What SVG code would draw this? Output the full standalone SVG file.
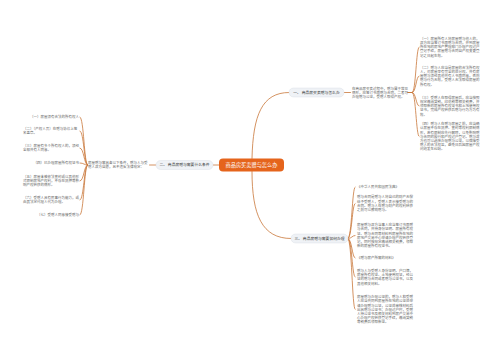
<svg xmlns="http://www.w3.org/2000/svg" width="500" height="360" viewBox="0 0 500 360">
<style>
.bg{fill:#ffffff}
.ln{fill:none;stroke:#c9773a;stroke-width:0.8;stroke-linecap:round}
.root{fill:#e5641c}
.rt{fill:#ffffff;font-family:"Noto Sans CJK SC","Noto Sans",sans-serif;font-size:5.2px;text-anchor:middle}
.nd{fill:#eff2f6;stroke:#d6dbe2;stroke-width:0.4}
.nt{fill:#333333;font-family:"Noto Sans CJK SC","Noto Sans",sans-serif;font-size:3.8px;text-anchor:middle}
.tx{fill:#666666;font-family:"Noto Sans CJK SC","Noto Sans",sans-serif;font-size:3.5px}
</style>
<rect class="bg" x="0" y="0" width="500" height="360"/>
<g id="connectors">
<path class="ln" d="M252 158.5 C253 115 262 92.5 289 92.5"/>
<path class="ln" d="M252 171.5 C252 215 262 238.5 291 238.5"/>
<path class="ln" d="M219 165 H213"/>
<path class="ln" d="M344 92.5 H350.5"/>
<path class="ln" d="M408 92.5 H412 C416 92.5 416 47 419 47"/>
<path class="ln" d="M408 92.5 H412 C416 92.5 416 76 419 76"/>
<path class="ln" d="M408 92.5 H412 C416 92.5 416 106 419 106"/>
<path class="ln" d="M408 92.5 H412 C416 92.5 416 136.5 419 136.5"/>
<path class="ln" d="M156 165 H149.5"/>
<path class="ln" d="M87.5 165 C84 165 84 117 80 117"/>
<path class="ln" d="M87.5 165 C84 165 84 131 80 131"/>
<path class="ln" d="M87.5 165 C84 165 84 148 80 148"/>
<path class="ln" d="M87.5 165 C84 165 84 163 80 163"/>
<path class="ln" d="M87.5 165 C84 165 84 181 80 181"/>
<path class="ln" d="M87.5 165 C84 165 84 200 80 200"/>
<path class="ln" d="M87.5 165 C84 165 84 215 80 215"/>
<path class="ln" d="M348 238.5 C352 238.5 352 187 355 187"/>
<path class="ln" d="M348 238.5 C352 238.5 352 203.5 355 203.5"/>
<path class="ln" d="M348 238.5 C352 238.5 352 235.5 355 235.5"/>
<path class="ln" d="M348 238.5 C352 238.5 352 258 355 258"/>
<path class="ln" d="M348 238.5 C352 238.5 352 277 355 277"/>
<path class="ln" d="M348 238.5 C352 238.5 352 309.5 355 309.5"/>
</g>
<g id="root">
<rect class="root" x="219" y="158.5" width="65" height="13" rx="4"/>
<text class="rt" x="251.5" y="166.9">商品房买卖赠与怎么办</text>
</g>
<g id="n1">
<rect class="nd" x="289" y="88" width="55" height="9" rx="4.5"/>
<text class="nt" x="316.5" y="93.9">一、 商品房买卖赠与怎么办</text>
</g>
<g id="n1-text">
<text class="tx" x="352" y="89.5">在商品房买卖过程中，赠与属于常见<tspan x="352" dy="4.2">情形，应签订书面赠与合同，二者可</tspan><tspan x="352" dy="4.2">办理赠与公证，受赠人取得产权。</tspan></text>
</g>
<g id="n1-c1">
<text class="tx" x="420" y="39.8">（一）房屋所有人将房屋赠与他人的，<tspan x="420" dy="4.2">双方应当签订书面赠与合同，并到房屋</tspan><tspan x="420" dy="4.2">所在地的房地产管理部门办理产权过户</tspan><tspan x="420" dy="4.2">登记手续，房屋赠与合同自产权变更登</tspan><tspan x="420" dy="4.2">记之日起生效。</tspan></text>
</g>
<g id="n1-c2">
<text class="tx" x="420" y="68.8">（二）赠与人应当是房屋的合法所有权<tspan x="420" dy="4.2">人，对房屋享有完全的处分权。共有房</tspan><tspan x="420" dy="4.2">屋赠与须经其他共有人书面同意，否则</tspan><tspan x="420" dy="4.2">赠与行为无效，受赠人无法取得房屋的</tspan><tspan x="420" dy="4.2">所有权。</tspan></text>
</g>
<g id="n1-c3">
<text class="tx" x="420" y="98.8">（三）受赠人在取得房屋后，应当按照<tspan x="420" dy="4.2">规定缴纳契税、印花税等相关税费，并</tspan><tspan x="420" dy="4.2">领取新的房屋所有权证书和土地使用权</tspan><tspan x="420" dy="4.2">证书，完成产权转移后赠与行为方为有</tspan><tspan x="420" dy="4.2">效。</tspan></text>
</g>
<g id="n1-c4">
<text class="tx" x="420" y="125.1">（四）赠与人在赠与房屋之前，应当确<tspan x="420" dy="4.2">认房屋不存在抵押、查封等权利限制情</tspan><tspan x="420" dy="4.2">形，若有限制应先行解除，以免影响赠</tspan><tspan x="420" dy="4.2">与合同的履行和产权过户登记。赠与双</tspan><tspan x="420" dy="4.2">方也可以选择办理赠与公证，以保障受</tspan><tspan x="420" dy="4.2">赠人的合法权益，避免日后因房屋产权</tspan><tspan x="420" dy="4.2">问题发生纠纷。</tspan></text>
</g>
<g id="n2">
<rect class="nd" x="156" y="160.5" width="57" height="9" rx="4.5"/>
<text class="nt" x="184.5" y="166.4">二、 商品房赠与需要什么条件</text>
</g>
<g id="n2-text">
<text class="tx" x="88" y="164.1">房屋赠与需具备以下条件，赠与人与受<tspan x="88" dy="4.2">赠人双方自愿，且不违反法律规定：</tspan></text>
</g>
<g id="n2-c1"><text class="tx" x="30" y="118.2">（一）房屋须有合法的所有权人</text></g>
<g id="n2-c2"><text class="tx" x="23" y="130.1">（二）（产权人员）在赠与协议上签<tspan x="23" dy="4.2">名盖章。</tspan></text></g>
<g id="n2-c3"><text class="tx" x="23" y="147.1">（三）房屋有多个所有权人的，须经<tspan x="23" dy="4.2">全部共有人同意。</tspan></text></g>
<g id="n2-c4"><text class="tx" x="33.5" y="164.2">（四）已办理房屋所有权证书</text></g>
<g id="n2-c5"><text class="tx" x="23" y="178">（五）房屋未被依法查封或以其他形<tspan x="23" dy="4.2">式限制房地产权利，不存在抵押等影</tspan><tspan x="23" dy="4.2">响产权转移的情形。</tspan></text></g>
<g id="n2-c6"><text class="tx" x="23" y="199.1">（六）受赠人具有民事行为能力，或<tspan x="23" dy="4.2">由其法定代理人代为办理。</tspan></text></g>
<g id="n2-c7"><text class="tx" x="37" y="216.2">（七）受赠人同意接受赠与</text></g>
<g id="n3">
<rect class="nd" x="291" y="234" width="57" height="9" rx="4.5"/>
<text class="nt" x="319.5" y="239.9">三、 商品房赠与需要如何办理</text>
</g>
<g id="n3-c1"><text class="tx" x="357" y="188.2">《中华人民共和国民法典》</text></g>
<g id="n3-c2"><text class="tx" x="357" y="198.4">赠与合同是赠与人将自己的财产无偿<tspan x="357" dy="4.2">给予受赠人，受赠人表示接受赠与的</tspan><tspan x="357" dy="4.2">合同。赠与人在赠与财产的权利转移</tspan><tspan x="357" dy="4.2">之前可以撤销赠与。</tspan></text></g>
<g id="n3-c3"><text class="tx" x="357" y="226.2">房屋赠与双方当事人应当签订书面赠<tspan x="357" dy="4.2">与合同，并持身份证明、房屋所有权</tspan><tspan x="357" dy="4.2">证、赠与合同等材料到房屋所在地的</tspan><tspan x="357" dy="4.2">房地产交易中心申请办理产权转移登</tspan><tspan x="357" dy="4.2">记，同时按规定缴纳相关税费，领取</tspan><tspan x="357" dy="4.2">新的房屋所有权证书。</tspan></text></g>
<g id="n3-c4"><text class="tx" x="357" y="259.2">《赠与房产所需的材料》</text></g>
<g id="n3-c5"><text class="tx" x="357" y="271.9">赠与人与受赠人身份证明、户口簿，<tspan x="357" dy="4.2">房屋所有权证、土地使用权证，经公</tspan><tspan x="357" dy="4.2">证的赠与合同或者赠与公证书，以及</tspan><tspan x="357" dy="4.2">其他相关材料。</tspan></text></g>
<g id="n3-c6"><text class="tx" x="357" y="298.1">房屋赠与办理公证的，赠与人和受赠<tspan x="357" dy="4.2">人应当共同到房屋所在地的公证处申</tspan><tspan x="357" dy="4.2">请办理赠与公证，公证处审核材料后</tspan><tspan x="357" dy="4.2">出具赠与公证书；办理过户时，受赠</tspan><tspan x="357" dy="4.2">人持公证书及相关材料到房产交易中</tspan><tspan x="357" dy="4.2">心办理产权转移登记手续，缴纳契税</tspan><tspan x="357" dy="4.2">等税费后领取新证。</tspan></text></g>
</svg>
